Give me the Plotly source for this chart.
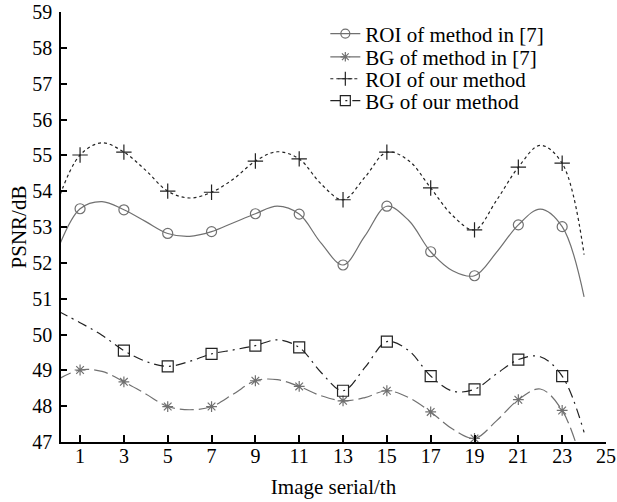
import plotly.graph_objects as go

# curve samples (integer image serials 0..24)
x_curve = list(range(0, 25))
roi_ref = [52.4, 53.51, 53.71, 53.48, 53.15, 52.82, 52.74, 52.87, 53.12, 53.37, 53.58, 53.36, 52.55,
           51.94, 52.75, 53.58, 53.18, 52.31, 51.78, 51.64, 52.29, 53.06, 53.5, 53.01, 51.05]
bg_ref = [48.75, 49.01, 48.97, 48.68, 48.34, 47.99, 47.9, 47.99, 48.34, 48.71, 48.74, 48.55, 48.29,
          48.15, 48.24, 48.43, 48.24, 47.84, 47.36, 47.1, 47.59, 48.18, 48.48, 47.88, 46.2]
roi_our = [53.75, 55.01, 55.35, 55.09, 54.58, 54.0, 53.81, 53.97, 54.34, 54.84, 55.1, 54.9, 54.2,
           53.76, 54.39, 55.09, 54.85, 54.09, 53.32, 52.92, 53.74, 54.67, 55.28, 54.78, 52.23]
bg_our = [50.65, 50.33, 49.98, 49.55, 49.25, 49.11, 49.25, 49.46, 49.57, 49.69, 49.85, 49.64, 48.94,
          48.43, 49.08, 49.8, 49.55, 48.84, 48.42, 48.47, 48.9, 49.3, 49.38, 48.84, 47.27]

# marker positions (odd image serials)
x_roi_ref_mk = [1, 3, 5, 7, 9, 11, 13, 15, 17, 19, 21, 23]
x_bg_our_mk = [3, 5, 7, 9, 11, 13, 15, 17, 19, 21, 23]

names = ["ROI of method in [7]", "BG of method in [7]", "ROI of our method", "BG of our method"]
x_ticks = [1, 3, 5, 7, 9, 11, 13, 15, 17, 19, 21, 23, 25]
y_ticks = [47, 48, 49, 50, 51, 52, 53, 54, 55, 56, 57, 58, 59]

GRAY = "#707070"
DARK = "#222222"
FONT = "Liberation Serif"

series = [
    (names[0], roi_ref, x_roi_ref_mk, GRAY, "solid", "circle-open", 10),
    (names[1], bg_ref, x_roi_ref_mk, GRAY, "14px,5px", "asterisk-open", 9),
    (names[2], roi_our, x_roi_ref_mk, DARK, "3px,3px", "cross-thin-open", 11),
    (names[3], bg_our, x_bg_our_mk, DARK, "10px,5px,2px,5px", "square-open", 11),
]
legend_ids = ["legend", "legend2", "legend3", "legend4"]
legend_rows = [0.949, 0.895, 0.844, 0.793]

fig = go.Figure()
for name, ys, xmk, col, dash, sym, ms in series:
    fig.add_trace(go.Scatter(x=x_curve, y=ys, mode="lines", line=dict(color=col, width=1.2, dash=dash,
                                                                       shape="spline", smoothing=1.0),
                             showlegend=False, hoverinfo="skip"))
    ymk = [ys[x_curve.index(v)] for v in xmk]
    fig.add_trace(go.Scatter(x=xmk, y=ymk, mode="markers",
                             marker=dict(symbol=sym, size=ms, color=col, line=dict(width=1.2, color=col)),
                             showlegend=False))
for (name, ys, xmk, col, dash, sym, ms), lid in zip(series, legend_ids):
    fig.add_trace(go.Scatter(x=[None], y=[None], mode="lines+markers", name=name, legend=lid,
                             line=dict(color=col, width=1.2, dash=dash),
                             marker=dict(symbol=sym, size=ms - 1, color=col, line=dict(width=1.2, color=col))))

legend_style = {}
for lid, yrow in zip(legend_ids, legend_rows):
    legend_style[lid] = dict(x=0.485, y=yrow, xanchor="left", yanchor="middle", bgcolor="rgba(0,0,0,0)",
                             font=dict(family=FONT, size=21), itemwidth=30)

fig.update_layout(
    width=617, height=502,
    margin=dict(l=61, r=11, t=12, b=60, autoexpand=False),
    paper_bgcolor="white", plot_bgcolor="white",
    font=dict(family=FONT, size=20, color="black"),
    xaxis=dict(range=[0.13, 25], tickvals=x_ticks, ticks="inside", ticklen=7, tickwidth=1.5,
               tickcolor="black", showline=True, linecolor="black", linewidth=1.5,
               showgrid=False, zeroline=False, automargin=False, ticklabelstandoff=-5,
               tickfont=dict(family=FONT, size=20),
               title=dict(text="Image serial/th", font=dict(family=FONT, size=21), standoff=14)),
    yaxis=dict(range=[47, 59], tickvals=y_ticks, ticks="inside", ticklen=6, tickwidth=1.5,
               tickcolor="black", showline=True, linecolor="black", linewidth=1.5,
               showgrid=False, zeroline=False, automargin=False, ticklabelstandoff=3,
               tickfont=dict(family=FONT, size=20),
               title=dict(text="PSNR/dB", font=dict(family=FONT, size=21), standoff=0)),
    **legend_style,
)

fig.write_html("out.html", config={"displayModeBar": False},
               post_script="document.body.style.margin='0px';")
